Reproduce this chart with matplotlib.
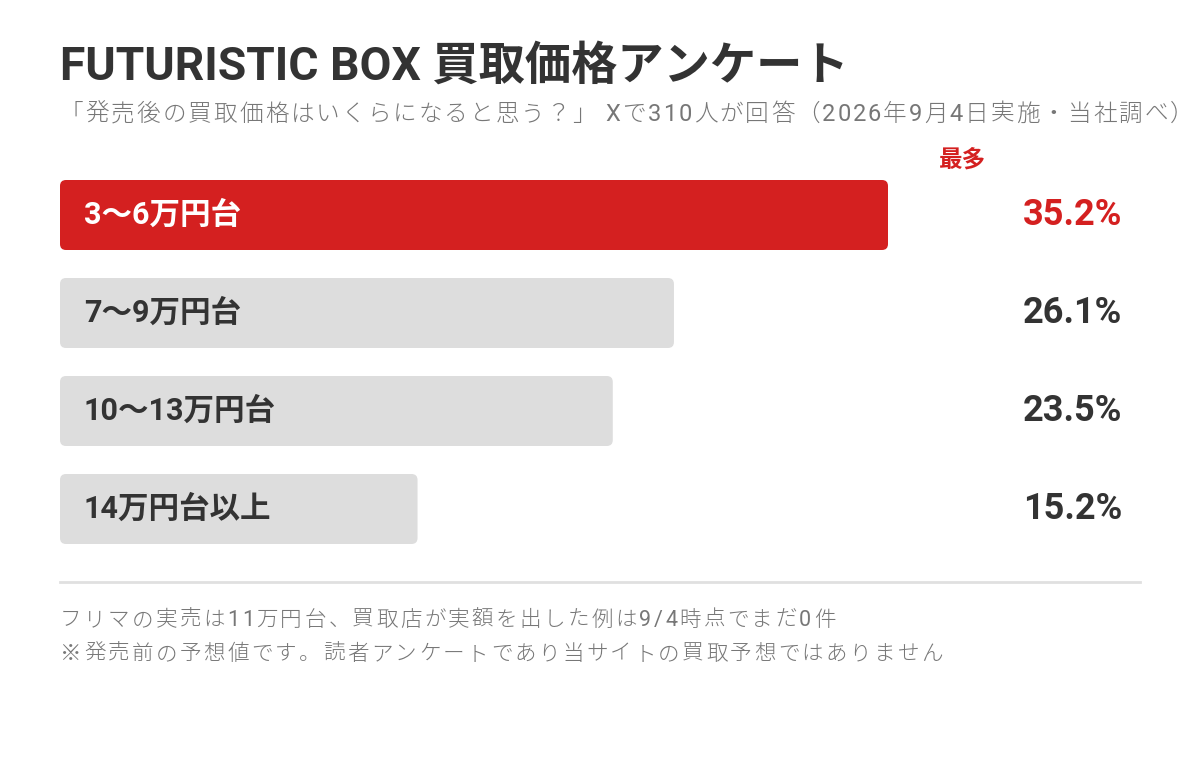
import matplotlib
matplotlib.use('Agg')
import matplotlib.pyplot as plt
from matplotlib import font_manager
from matplotlib.font_manager import FontProperties
from matplotlib.patches import FancyBboxPatch

FAMILIES = ['Roboto', 'Noto Sans CJK JP', 'DejaVu Sans']
plt.rcParams['font.family'] = FAMILIES

# データ
title = 'FUTURISTIC BOX 買取価格アンケート'
subtitle = '「発売後の買取価格はいくらになると思う？」 Xで310人が回答（2026年9月4日実施・当社調べ）'
categories = ['3〜6万円台', '7〜9万円台', '10〜13万円台', '14万円台以上']
shares = [35.2, 26.1, 23.5, 15.2]
top_label = '最多'
notes = ['フリマの実売は11万円台、買取店が実額を出した例は9/4時点でまだ0件',
         '※発売前の予想値です。読者アンケートであり当サイトの買取予想ではありません']

RED = '#d42020'
GRAY_BAR = '#dddddd'
DARK = '#333333'
MUTED = '#777777'

W, H = 1200, 760
fig = plt.figure(figsize=(W / 100, H / 100), dpi=100)
fig.patch.set_facecolor('white')


# 半角は Roboto、それ以外は Noto Sans CJK JP
def pick_font(ch, weight, size):
    if ord(ch) < 128:
        prop = FontProperties(family='Roboto', weight='normal', size=size)
    else:
        prop = FontProperties(family='Noto Sans CJK JP', weight=weight, size=size)
    font = font_manager.get_font(font_manager.findfont(prop))
    return prop, font


# 字間つきのテキスト (1文字ずつ置く)
def spaced_text(x_px, y_px, s, size, spacing=0.0, weight='normal', color=DARK):
    x = x_px
    for ch in s:
        prop, font = pick_font(ch, weight, size)
        font.set_size(size, 100)
        adv = font.load_char(ord(ch)).linearHoriAdvance / 65536
        fig.text(x / W, 1 - y_px / H, ch, fontproperties=prop, color=color,
                 ha='left', va='baseline')
        x += adv + spacing


fig.text(60 / W, 1 - 80 / H, title, ha='left', va='baseline',
         fontsize=33.3, fontweight='bold', color=DARK)
spaced_text(60, 121, subtitle, 17, 2, weight='light', color=MUTED)

# 棒グラフ
ax = fig.add_axes([60 / W, 1 - 558 / H, 828 / W, 392 / H])
ax.set_xlim(0, max(shares))
ax.set_ylim(len(categories) - 0.5, -0.5)
ax.axis('off')

px_x = 828 / max(shares)
px_y = 392 / len(categories)
bar_h = 70 / px_y
imax = shares.index(max(shares))

for i, (cat, v) in enumerate(zip(categories, shares)):
    col = RED if i == imax else GRAY_BAR
    box = FancyBboxPatch((0, i - bar_h / 2), v, bar_h,
                         boxstyle=f'round,pad=0,rounding_size={6 / px_x}',
                         mutation_aspect=px_x / px_y,
                         facecolor=col, edgecolor='none', clip_on=False)
    ax.add_patch(box)
    ax.text(24 / 828, i, cat, transform=ax.get_yaxis_transform(),
            ha='left', va='center', fontsize=22, fontweight='bold',
            color='white' if i == imax else DARK)
    ax.text(1062 / 828, i, f'{v:.1f}%', transform=ax.get_yaxis_transform(),
            ha='right', va='center', fontsize=26, fontweight='bold',
            color=RED if i == imax else DARK, clip_on=False)

fig.text(963 / W, 1 - 160 / H, top_label, ha='center', va='center',
         fontsize=17, fontweight='bold', color=RED)

# 区切り線と注記
fig.add_artist(plt.Line2D([60 / W, 1140 / W], [1 - 582 / H, 1 - 582 / H],
                          color='#e0e0e0', lw=2))
spaced_text(60, 626, notes[0], 15.5, 2.4, weight='light', color=MUTED)
spaced_text(60, 660, notes[1], 15.5, 2.4, weight='light', color=MUTED)

fig.savefig('out.png', dpi=100, facecolor='white')
